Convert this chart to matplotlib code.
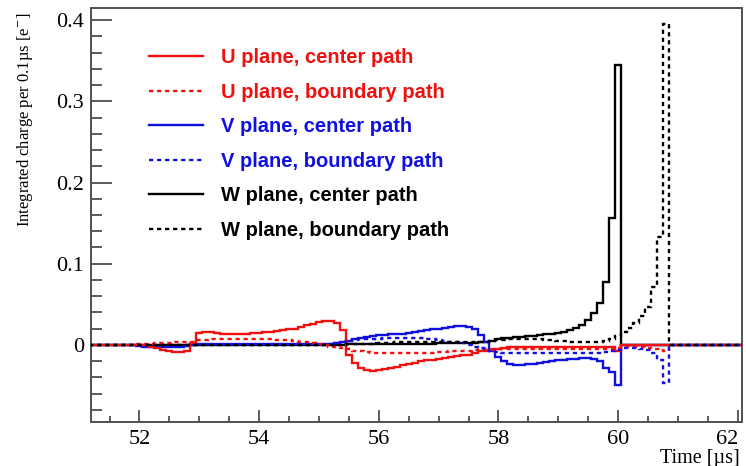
import numpy as np
import matplotlib
matplotlib.use("Agg")
import matplotlib.pyplot as plt
from matplotlib.ticker import MultipleLocator, FixedLocator, FixedFormatter

plt.rcParams['mathtext.fontset'] = 'stix'

# histogram binning: 0.1 us bins
bin_width = 0.1
first_edge = 51.15
n_bins = 110

# integrated charge per bin, listed from the first non-empty bin (left edge)
u_center_start = 52.15
u_center = [-0.002, -0.004, -0.006, -0.008, -0.009, -0.009, -0.007, 0.002,
            0.015, 0.016, 0.016, 0.015, 0.014, 0.013, 0.013, 0.014, 0.014, 0.015,
            0.015, 0.016, 0.016, 0.017, 0.018, 0.019, 0.020, 0.022, 0.024, 0.026,
            0.028, 0.029, 0.029, 0.027, 0.018, -0.012, -0.022, -0.028, -0.031, -0.032,
            -0.031, -0.030, -0.028, -0.027, -0.025, -0.023, -0.022, -0.020, -0.019, -0.018,
            -0.017, -0.016, -0.015, -0.014, -0.013, -0.012, -0.010, -0.008, -0.007, -0.006,
            -0.005, -0.004, -0.003, -0.003, -0.003, -0.003, -0.003, -0.003, -0.003, -0.003,
            -0.003, -0.003, -0.003, -0.003, -0.003, -0.003, -0.003, -0.003, -0.003, -0.003,
            -0.008]

u_boundary_start = 51.95
u_boundary = [0.001, 0.001, 0.001, 0.002, 0.002, 0.002, 0.003, 0.003, 0.004, 0.004,
              0.006, 0.006, 0.007, 0.007, 0.007, 0.007, 0.007, 0.007, 0.007, 0.007,
              0.007, 0.007, 0.007, 0.006, 0.006, 0.006, 0.005, 0.004, 0.003, 0.002,
              0.001, 0.000, -0.002, -0.003, -0.004, -0.005, -0.007, -0.008, -0.009, -0.010,
              -0.010, -0.010, -0.010, -0.010, -0.010, -0.010, -0.010, -0.010, -0.010, -0.010,
              -0.009, -0.009, -0.008, -0.008, -0.007, -0.007, -0.006, -0.005, -0.005, -0.005,
              -0.005, -0.005, -0.005, -0.005, -0.005, -0.005, -0.005, -0.005, -0.005, -0.005,
              -0.005, -0.005, -0.005, -0.005, -0.005, -0.005, -0.005, -0.005, -0.005, -0.005,
              -0.004, -0.003, -0.003, -0.003, -0.003, -0.004, -0.005, -0.005, -0.007]

v_center_start = 51.95
v_center = [-0.001, -0.002, -0.002, -0.003, -0.003, -0.003, -0.003, -0.002, -0.001, 0.000,
            0.001, 0.001, 0.001, 0.001, 0.001, 0.001, 0.001, 0.001, 0.001, 0.001,
            0.001, 0.001, 0.001, 0.001, 0.001, 0.001, 0.001, 0.001, 0.001, 0.001,
            0.001, 0.001, 0.001, 0.002, 0.003, 0.005, 0.007, 0.009, 0.010, 0.011,
            0.012, 0.012, 0.013, 0.013, 0.014, 0.015, 0.016, 0.017, 0.018, 0.019,
            0.020, 0.021, 0.022, 0.023, 0.023, 0.022, 0.019, 0.012, 0.003, -0.007,
            -0.015, -0.020, -0.024, -0.025, -0.025, -0.024, -0.023, -0.022, -0.021, -0.020,
            -0.019, -0.018, -0.017, -0.017, -0.016, -0.016, -0.017, -0.020, -0.028, -0.033,
            -0.049]

v_boundary_start = 55.15
v_boundary = [0.001, 0.002, 0.004, 0.005, 0.006, 0.007, 0.007, 0.007,
              0.007, 0.008, 0.008, 0.008, 0.008, 0.008, 0.008, 0.008, 0.007, 0.007,
              0.006, 0.005, 0.004, 0.003, 0.002, 0.000, -0.002, -0.004, -0.006, -0.008,
              -0.009, -0.010, -0.010, -0.010, -0.010, -0.010, -0.010, -0.010, -0.010, -0.010,
              -0.010, -0.010, -0.010, -0.010, -0.010, -0.010, -0.010, -0.010, -0.009, -0.008,
              -0.006, -0.004, -0.004, -0.004, -0.005, -0.006, -0.010, -0.018, -0.047]

w_center_start = 55.45
w_center = [0.001, 0.001, 0.001, 0.001, 0.001,
            0.001, 0.001, 0.001, 0.001, 0.001, 0.001, 0.001, 0.001, 0.001, 0.001,
            0.002, 0.002, 0.002, 0.002, 0.002, 0.002, 0.002, 0.003, 0.004, 0.005,
            0.007, 0.008, 0.009, 0.0095, 0.010, 0.011, 0.0115, 0.012, 0.013, 0.014,
            0.015, 0.016, 0.018, 0.021, 0.025, 0.031, 0.039, 0.051, 0.077, 0.156,
            0.345]

w_boundary_start = 55.45
w_boundary = [0.001, 0.001, 0.001, 0.001, 0.001,
              0.002, 0.002, 0.002, 0.003, 0.003, 0.003, 0.003, 0.003, 0.003, 0.003,
              0.003, 0.003, 0.003, 0.003, 0.003, 0.003, 0.003, 0.004, 0.004, 0.005,
              0.006, 0.006, 0.007, 0.007, 0.007, 0.007, 0.007, 0.007, 0.006, 0.006,
              0.005, 0.005, 0.004, 0.004, 0.003, 0.003, 0.003, 0.004, 0.005, 0.007,
              0.011, 0.016, 0.021, 0.027, 0.035, 0.047, 0.071, 0.133, 0.395]

labels = ['U plane, center path', 'U plane, boundary path',
          'V plane, center path', 'V plane, boundary path',
          'W plane, center path', 'W plane, boundary path']

x_ticks = [52, 54, 56, 58, 60, 62]
y_ticks = [0, 0.1, 0.2, 0.3, 0.4]
y_tick_labels = ['0', '0.1', '0.2', '0.3', '0.4']

edges = first_edge + bin_width * np.arange(n_bins + 1)


def fill_hist(start, values):
    # put the listed bins into a full-length histogram
    h = np.zeros(n_bins)
    i0 = int(round((start - first_edge) / bin_width))
    h[i0:i0 + len(values)] = values
    return h


RED = '#f01010'
BLUE = '#1010e0'
BLACK = '#000000'
dots = (0, (1.8, 1.6))

series = [
    (u_center_start, u_center, RED, '-', 4),
    (u_boundary_start, u_boundary, RED, dots, 5),
    (v_center_start, v_center, BLUE, '-', 3),
    (v_boundary_start, v_boundary, BLUE, dots, 6),
    (w_center_start, w_center, BLACK, '-', 2),
    (w_boundary_start, w_boundary, BLACK, dots, 7),
]

fig = plt.figure(figsize=(7.46, 4.66), dpi=100)
ax = fig.add_axes([0.122, 0.0944, 0.8726, 0.8884])

for (start, vals, col, ls, z), lab in zip(series, labels):
    ax.stairs(fill_hist(start, vals), edges, color=col, linestyle=ls,
              linewidth=1.7, zorder=z, label=lab)

ax.set_xlim(51.19, 62.07)
ax.set_ylim(-0.095, 0.415)

# ROOT-like axes: ticks inside, only on left and bottom
ax.xaxis.set_major_locator(FixedLocator(x_ticks))
ax.xaxis.set_minor_locator(MultipleLocator(0.5))
ax.yaxis.set_major_locator(FixedLocator(y_ticks))
ax.yaxis.set_major_formatter(FixedFormatter(y_tick_labels))
ax.yaxis.set_minor_locator(MultipleLocator(0.02))
ax.tick_params(axis='both', which='both', direction='in', color='#404040',
               width=1.2, top=False, right=False)
ax.tick_params(axis='x', which='major', length=8.5, pad=6)
ax.tick_params(axis='x', which='minor', length=4.3)
ax.tick_params(axis='y', which='major', length=15, pad=5)
ax.tick_params(axis='y', which='minor', length=8)
for lab in ax.get_xticklabels() + ax.get_yticklabels():
    lab.set_fontfamily('Liberation Serif')
    lab.set_fontsize(16)
# keep the last x label inside the canvas
ax.get_xticklabels()[-1].set_horizontalalignment('right')
for sp in ax.spines.values():
    sp.set_color('#505050')
    sp.set_linewidth(1.4)

fig.text(25 / 746, 1 - 12 / 466, 'Integrated charge per 0.1\u00b5s [e$^{-}$]',
         rotation=90, ha='center', va='top', fontsize=12.0,
         family='Liberation Serif')
fig.text(740 / 746, 1 - 458 / 466, 'Time [\u00b5s]', ha='right', va='center',
         fontsize=14.5, family='Liberation Serif')

leg = ax.legend(loc='upper left', bbox_to_anchor=(0.0605, 0.947), frameon=False,
                labelcolor='linecolor', handlelength=2.7, handletextpad=0.9,
                labelspacing=0.77,
                prop={'family': 'Liberation Sans', 'weight': 'bold', 'size': 14.5})

fig.savefig('out.png', dpi=100)
